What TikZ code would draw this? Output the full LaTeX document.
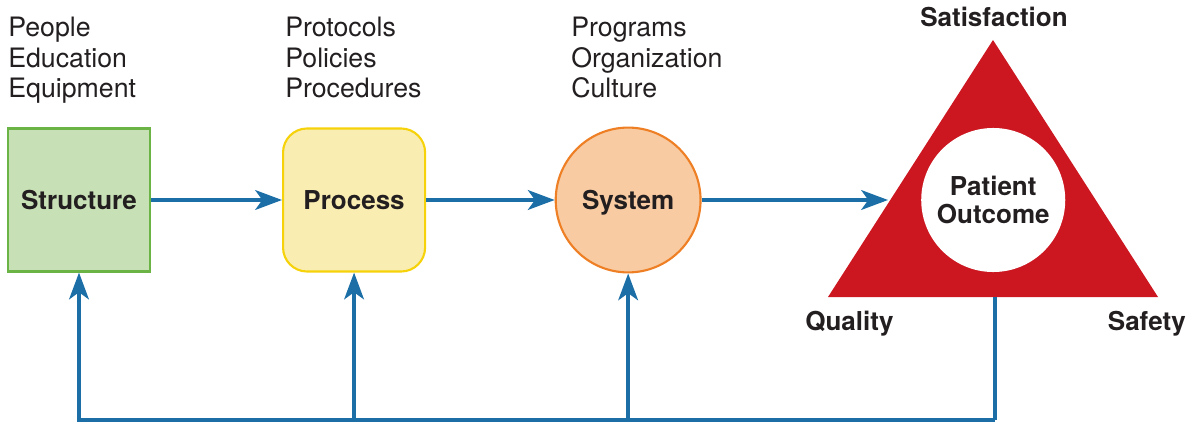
\documentclass[tikz,border=0pt]{standalone}
\usepackage{fontspec}
\setmainfont{TeX Gyre Heros}
\usetikzlibrary{shapes, arrows.meta, positioning}
\definecolor{boxgreen}{HTML}{C8E0B5}
\definecolor{linegreen}{HTML}{6AB344}
\definecolor{boxyellow}{HTML}{FAEDB2}
\definecolor{lineyellow}{HTML}{F6D20A}
\definecolor{boxorange}{HTML}{F8CBA2}
\definecolor{lineorange}{HTML}{EE7F24}
\definecolor{outred}{HTML}{CC1721}
\definecolor{flowblue}{HTML}{1B6EA6}
\definecolor{inktext}{HTML}{231F20}
\tikzstyle{label} = [text=inktext, font=\bfseries\fontsize{18.5}{20.5}\selectfont, inner sep=0pt]
\tikzstyle{itemlist} = [text=inktext, font=\fontsize{19}{22}\selectfont, align=left, inner sep=0pt, anchor=base west]
\tikzstyle{structbox} = [label, rectangle, text depth=0pt, minimum width=3.55cm, minimum height=3.575cm, draw=linegreen, fill=boxgreen, line width=1.5pt]
\tikzstyle{procbox} = [label, rectangle, text depth=0pt, rounded corners=0.6cm, minimum width=3.55cm, minimum height=3.575cm, draw=lineyellow, fill=boxyellow, line width=1.5pt]
\tikzstyle{sysbox} = [label, circle, text depth=0pt, minimum size=3.62cm, draw=lineorange, fill=boxorange, line width=1.5pt]
\tikzstyle{outbox} = [label, circle, minimum size=3.6cm, fill=white, align=center]
\tikzstyle{line} = [line width=2.6pt, draw=flowblue]
\tikzstyle{arrow} = [line, -{Stealth[length=19pt, width=14pt, inset=5pt]}]

\begin{document}
\begin{tikzpicture}[x=0.025cm, y=-0.025cm, node distance=6.875cm]
    \useasboundingbox (0,0) rectangle (1198,427);

    % outcome triangle
    \coordinate (apex) at (993,40);
    \coordinate (qualcorner) at (828,297);
    \coordinate (safecorner) at (1158,297);
    \coordinate (base) at (995,297);
    \coordinate (low) at (995,420);
    \coordinate (tip) at (888,200);
    \fill [outred] (apex) -- (qualcorner) -- (safecorner) -- cycle;

    \node (structure) [structbox] at (79,200) {Structure};
    \node (process) [procbox, right of=structure] {Process};
    \node (system) [sysbox, right of=process, node distance=6.85cm] {System};
    \node (outcome) [outbox, right of=system, node distance=9.125cm] {Patient\\Outcome};

    % base anchor of a multi-line node sits on its last line
    \node (people) [itemlist] at (8,98) {People\\Education\\Equipment};
    \node (protocols) [itemlist] at (285,98) {Protocols\\Policies\\Procedures};
    \node (programs) [itemlist] at (571,98) {Programs\\Organization\\Culture};

    \node (satisfaction) [label, anchor=base] at (994,27) {Satisfaction};
    \node (quality) [label, anchor=base west] at (805,330) {Quality};
    \node (safety) [label, anchor=base east] at (1186,330) {Safety};

    \draw [arrow] (structure) -- (process);
    \draw [arrow] (process) -- (system);
    \draw [arrow] (system) -- (tip);

    % feedback loop
    \draw [line] (base) -- (low);
    \draw [arrow] (low) -| (structure);
    \draw [arrow] (low -| process) -- (process);
    \draw [arrow] (low -| system) -- (system);
\end{tikzpicture}
\end{document}
